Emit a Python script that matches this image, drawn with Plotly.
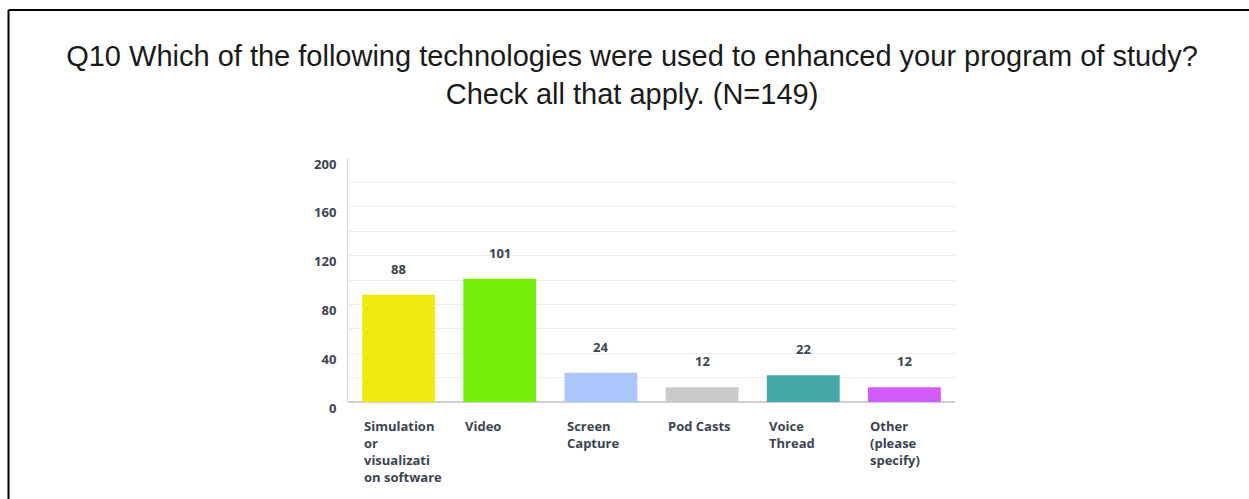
import plotly.graph_objects as go

# Survey responses per technology
categories = ["Simulation or visualization software", "Video", "Screen Capture",
              "Pod Casts", "Voice Thread", "Other (please specify)"]
wrapped_labels = ["Simulation<br>or<br>visualizati<br>on software", "Video",
                  "Screen<br>Capture", "Pod Casts", "Voice<br>Thread",
                  "Other<br>(please<br>specify)"]
counts = [88, 101, 24, 12, 22, 12]
bar_colors = ["#f0ea0f", "#77ee0a", "#a9c7fb", "#cacaca", "#43a8a8", "#d35afa"]
y_ticks = [0, 40, 80, 120, 160, 200]

W, H = 1249, 499
M_L, M_R, M_T, M_B = 348, 294, 158, 97
PW, PH = W - M_L - M_R, H - M_T - M_B

label_font = dict(family="Open Sans", size=13, color="#3b4450", weight=700)

fig = go.Figure()
fig.add_trace(go.Bar(
    x=list(range(len(categories))),
    y=counts,
    marker=dict(color=bar_colors, line=dict(width=0)),
    hovertext=categories,
    width=0.72,
))

annotations = []
# Value labels above each bar
for i, v in enumerate(counts):
    annotations.append(dict(
        x=i, y=v, xref="x", yref="y", text=str(v), showarrow=False,
        xanchor="center", yanchor="bottom", yshift=15, font=label_font,
    ))
# Category labels, left-aligned under each bar
for i, lab in enumerate(wrapped_labels):
    annotations.append(dict(
        x=i - 0.36, y=-13 / PH, xref="x", yref="paper", text=lab,
        showarrow=False, xanchor="left", yanchor="top", align="left",
        font=label_font,
    ))

# Outer frame lines (top and left edges)
px_x = lambda p: (p - M_L) / PW
px_y = lambda p: (H - M_B - p) / PH
shapes = [
    dict(type="line", xref="paper", yref="paper", x0=px_x(8.5), x1=px_x(1260),
         y0=px_y(10), y1=px_y(10), line=dict(color="#000000", width=2)),
    dict(type="line", xref="paper", yref="paper", x0=px_x(8.5), x1=px_x(8.5),
         y0=px_y(10), y1=px_y(510), line=dict(color="#000000", width=2)),
]

fig.update_layout(
    width=W, height=H,
    margin=dict(l=M_L, r=M_R, t=M_T, b=M_B),
    paper_bgcolor="white", plot_bgcolor="white",
    showlegend=False,
    title=dict(
        text="Q10 Which of the following technologies were used to enhanced your program of study?<br>Check all that apply. (N=149)",
        x=632 / W, xanchor="center", y=1 - 66 / H, yanchor="middle",
        yref="container", xref="container",
        font=dict(family="Liberation Sans", size=29, color="#1a1a1a"),
    ),
    annotations=annotations,
    shapes=shapes,
    bargap=0.28,
)

fig.update_xaxes(
    range=[-0.5, len(categories) - 0.5],
    showticklabels=False, showgrid=False, zeroline=False,
    showline=False, ticks="",
)
fig.update_yaxes(
    range=[0, 200], tickvals=y_ticks,
    showgrid=True, gridcolor="#ececec", gridwidth=1,
    minor=dict(dtick=20, showgrid=True, gridcolor="#ececec", gridwidth=1),
    zeroline=True, zerolinecolor="#cfcfcf", zerolinewidth=1.5,
    showline=True, linecolor="#d6d6d6", linewidth=1,
    ticks="", ticklabelstandoff=8, ticklabelshift=6,
    tickfont=label_font,
)

fig.write_html("out.html")
